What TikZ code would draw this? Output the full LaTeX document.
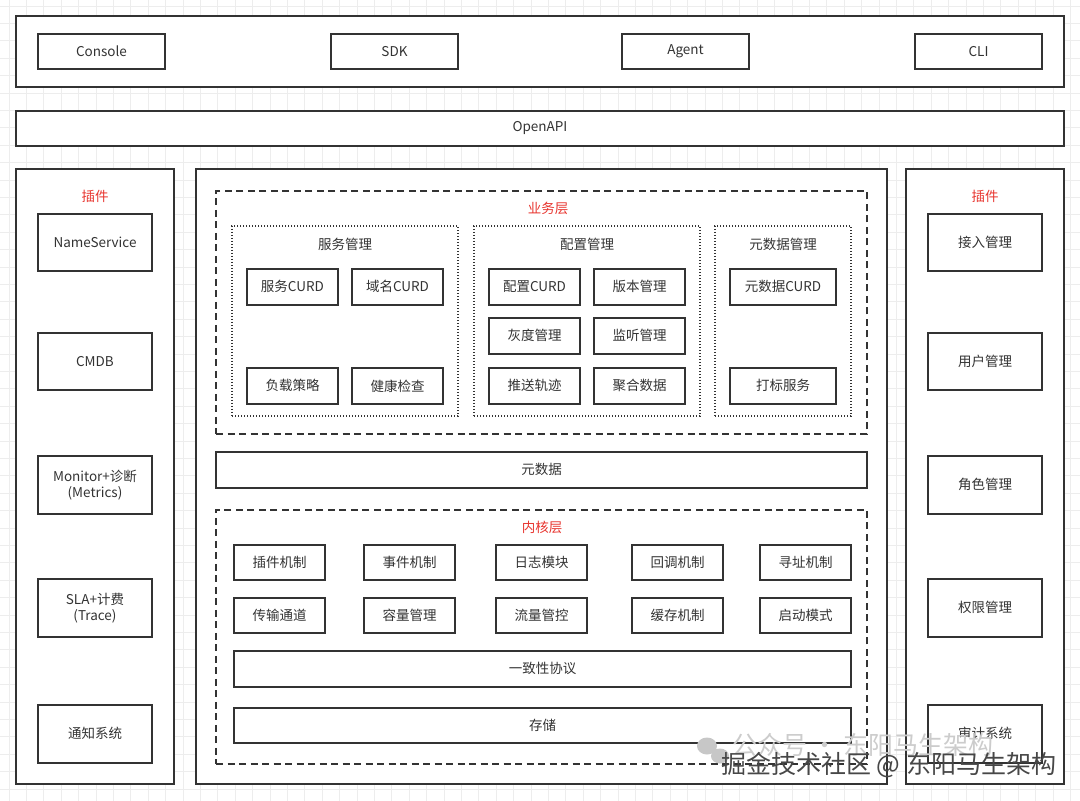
\documentclass[tikz,border=0pt]{standalone}
\usepackage{fontspec}
\setmainfont{Noto Sans CJK SC}
\definecolor{lc}{HTML}{333333}
\definecolor{tc}{HTML}{333333}
\definecolor{rc}{HTML}{E8352F}
\definecolor{gc}{HTML}{EDEDED}
\tikzset{
  box/.style={draw=lc, line width=1.5pt, fill=white, inner sep=0pt, text=tc, font=\fontsize{13.5}{16}\selectfont, align=center},
  dashbox/.style={draw=lc, line width=1.5pt, dash pattern=on 7pt off 4.5pt, inner sep=0pt},
  dotbox/.style={draw=lc, line width=1.5pt, dash pattern=on 1.2pt off 1.8pt, inner sep=0pt},
  redlbl/.style={text=rc, font=\fontsize{13.5}{16}\selectfont, inner sep=0pt},
  lbl/.style={text=tc, font=\fontsize{13.5}{16}\selectfont, inner sep=0pt},
}
\newcommand\B[7]{\node[#6, minimum width={(#4)-(#2)}, minimum height={(#5)-(#3)}] (#1) at ({((#2)+(#4))/2},{((#3)+(#5))/2+0.8}) {#7};}
\begin{document}
\begin{tikzpicture}[x=1pt,y=-1pt]
\useasboundingbox (0,0) rectangle (1080,801);
\fill[white] (0,0) rectangle (1080,801);
% grid
\foreach \i in {0,...,62} {
  \draw[gc, line width=0.8pt] ({9+17.4*\i},0) -- ({9+17.4*\i},801);
}
\foreach \j in {0,...,46} {
  \draw[gc, line width=0.8pt] (0,{6+17.4*\j}) -- (1080,{6+17.4*\j});
}
% top clients
\B{top}{16}{15}{1064}{86}{box}{}
\B{console}{38}{33}{165}{68}{box}{Console}
\B{sdk}{331}{33}{458}{68}{box}{SDK}
\B{agent}{622}{33}{749}{68}{box}{Agent}
\B{cli}{915}{33}{1042}{68}{box}{CLI}
% openapi
\B{openapi}{16}{110}{1064}{145}{box}{OpenAPI}
% left plugins
\B{left}{16}{168}{174}{783}{box}{}
\node[redlbl] (lplug) at (95,196) {插件};
\B{ns}{38}{213}{152}{270}{box}{NameService}
\B{cmdb}{38}{332}{152}{389}{box}{CMDB}
\B{mon}{38}{455}{152}{513}{box}{Monitor+诊断\\(Metrics)}
\B{sla}{38}{578}{152}{636}{box}{SLA+计费\\(Trace)}
\B{notify}{38}{704}{152}{762}{box}{通知系统}
% right plugins
\B{right}{906}{168}{1064}{783}{box}{}
\node[redlbl] (rplug) at (985,196) {插件};
\B{access}{928}{213}{1042}{270}{box}{接入管理}
\B{user}{928}{332}{1042}{389}{box}{用户管理}
\B{role}{928}{455}{1042}{513}{box}{角色管理}
\B{perm}{928}{578}{1042}{636}{box}{权限管理}
\B{audit}{928}{704}{1042}{762}{box}{审计系统}
% center
\B{center}{196}{168}{887}{783}{box}{}
\B{biz}{216}{190}{867}{433}{dashbox}{}
\node[redlbl] (bizl) at (548,208) {业务层};
\B{svc}{232}{225}{458}{415}{dotbox}{}
\node[lbl] (svcl) at (345,244) {服务管理};
\B{svc1}{247}{268}{338}{304}{box}{服务CURD}
\B{svc2}{352}{268}{443}{304}{box}{域名CURD}
\B{svc3}{247}{367}{338}{403}{box}{负载策略}
\B{svc4}{352}{367}{443}{403}{box}{健康检查}
\B{cfg}{474}{225}{700}{415}{dotbox}{}
\node[lbl] (cfgl) at (587,244) {配置管理};
\B{cfg1}{489}{268}{580}{304}{box}{配置CURD}
\B{cfg2}{594}{268}{685}{304}{box}{版本管理}
\B{cfg3}{489}{317}{580}{353}{box}{灰度管理}
\B{cfg4}{594}{317}{685}{353}{box}{监听管理}
\B{cfg5}{489}{367}{580}{403}{box}{推送轨迹}
\B{cfg6}{594}{367}{685}{403}{box}{聚合数据}
\B{meta}{715}{225}{851}{415}{dotbox}{}
\node[lbl] (metal) at (783,244) {元数据管理};
\B{meta1}{730}{268}{836}{304}{box}{元数据CURD}
\B{meta2}{730}{367}{836}{403}{box}{打标服务}
\B{metabar}{216}{451}{867}{487}{box}{元数据}
\B{kern}{216}{509}{867}{763}{dashbox}{}
\node[redlbl] (kernl) at (542,527) {内核层};
\B{k1}{234}{544}{325}{579}{box}{插件机制}
\B{k2}{364}{544}{455}{579}{box}{事件机制}
\B{k3}{496}{544}{587}{579}{box}{日志模块}
\B{k4}{632}{544}{723}{579}{box}{回调机制}
\B{k5}{760}{544}{851}{579}{box}{寻址机制}
\B{k6}{234}{597}{325}{632}{box}{传输通道}
\B{k7}{364}{597}{455}{632}{box}{容量管理}
\B{k8}{496}{597}{587}{632}{box}{流量管控}
\B{k9}{632}{597}{723}{632}{box}{缓存机制}
\B{k10}{760}{597}{851}{632}{box}{启动模式}
\B{cons}{234}{650}{851}{686}{box}{一致性协议}
\B{store}{234}{707}{851}{742}{box}{存储}
% watermark
\fill[black!22] (707,746) ellipse (10pt and 8.5pt);
\fill[black!22] (720,756) ellipse (9pt and 7.5pt);
\node[text=black!20, font=\fontsize{25}{28}\selectfont, anchor=west, inner sep=0pt] (wm1) at (732,745) {公众号 · 东阳马生架构};
\node[text=black!72, font=\fontsize{25}{28}\selectfont, anchor=west, inner sep=0pt] (wm2) at (721,765) {掘金技术社区 @ 东阳马生架构};
\end{tikzpicture}
\end{document}
